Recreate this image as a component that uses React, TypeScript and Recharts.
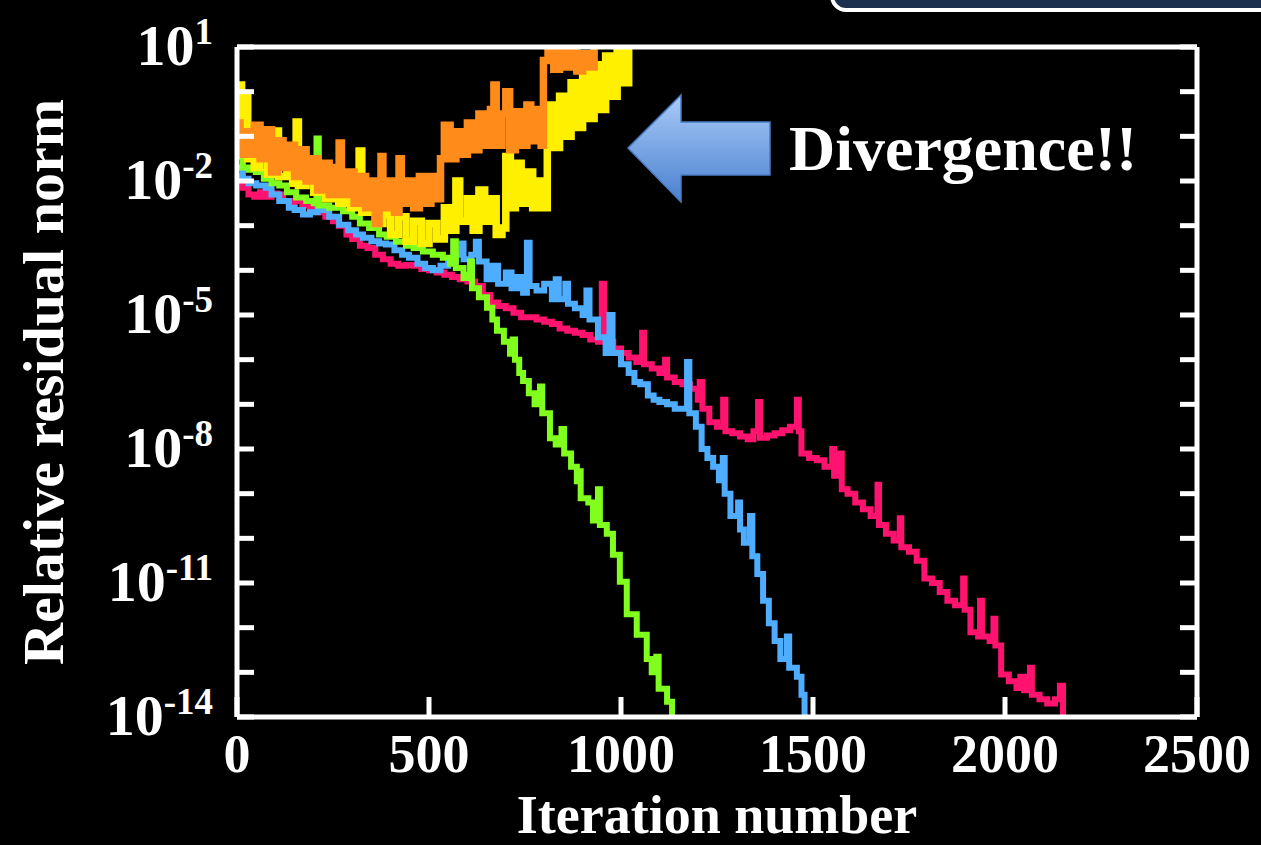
import React from 'react';
import { LineChart, Line, XAxis, YAxis } from 'recharts';

// [iteration, log10(relative residual norm)]
const pinkSeries: [number, number][] = [
  [0, -1.9], [15, -2.15], [30, -2.3], [45, -2.35], [60, -2.25], [75, -2.35], [90, -2.28], [105, -2.3],
  [120, -2.45], [135, -2.5], [150, -2.45], [170, -2.55], [190, -2.62], [210, -2.7], [230, -2.8], [250, -2.9],
  [265, -3.0], [285, -3.2], [300, -3.3], [320, -3.45], [340, -3.5], [360, -3.65], [380, -3.75], [400, -3.85],
  [420, -3.9], [440, -3.88], [460, -3.9], [480, -3.97], [500, -4.0], [520, -4.05], [540, -4.1], [560, -4.15],
  [580, -4.2], [600, -4.25], [620, -4.35], [640, -4.55], [660, -4.72], [680, -4.8], [700, -4.85], [720, -4.95],
  [740, -5.05], [760, -5.05], [780, -5.1], [800, -5.15], [820, -5.2], [840, -5.3], [860, -5.35], [880, -5.4],
  [900, -5.45], [920, -5.55], [940, -5.6], [950, -4.3], [956, -5.6], [980, -5.75], [1000, -5.85], [1020, -5.95],
  [1040, -6.05], [1055, -5.4], [1060, -6.1], [1080, -6.2], [1100, -6.3], [1115, -6.0], [1120, -6.4], [1140, -6.5],
  [1160, -6.55], [1180, -6.65], [1200, -6.9], [1205, -6.5], [1212, -7.1], [1230, -7.4], [1250, -7.5], [1266, -6.9],
  [1272, -7.6], [1290, -7.65], [1310, -7.72], [1330, -7.78], [1345, -7.6], [1357, -6.95], [1362, -7.75], [1380, -7.7],
  [1400, -7.65], [1420, -7.58], [1440, -7.5], [1458, -6.9], [1463, -7.6], [1470, -8.1], [1490, -8.2], [1510, -8.25],
  [1530, -8.4], [1550, -8.0], [1555, -8.6], [1570, -8.1], [1575, -8.9], [1590, -9.0], [1610, -9.2], [1630, -9.35],
  [1650, -9.5], [1668, -8.8], [1672, -9.7], [1690, -9.9], [1710, -10.05], [1726, -9.55], [1730, -10.2], [1750, -10.3],
  [1770, -10.5], [1790, -10.9], [1810, -11.0], [1830, -11.2], [1850, -11.4], [1870, -11.5], [1891, -10.9], [1895, -11.6],
  [1910, -12.1], [1930, -12.2], [1935, -11.4], [1940, -12.2], [1960, -12.3], [1970, -11.8], [1975, -12.4], [1990, -13.05],
  [2010, -13.2], [2030, -13.35], [2040, -13.1], [2050, -13.4], [2065, -12.9], [2070, -13.5], [2090, -13.6], [2110, -13.7],
  [2130, -13.6], [2143, -13.3], [2151, -14.1],
];

const blueSeries: [number, number][] = [
  [0, -1.7], [15, -1.95], [30, -2.05], [50, -2.1], [75, -2.15], [90, -2.3], [110, -2.45], [135, -2.6],
  [150, -2.65], [172, -2.75], [190, -2.7], [210, -2.6], [224, -2.65], [240, -2.8], [266, -2.98], [290, -3.1],
  [310, -3.2], [328, -3.27], [350, -3.35], [370, -3.4], [388, -3.42], [410, -3.55], [430, -3.65], [448, -3.72],
  [470, -3.85], [490, -3.95], [510, -4.0], [530, -3.9], [550, -3.75], [570, -3.65], [585, -3.4], [590, -3.75],
  [610, -3.65], [622, -3.36], [630, -3.8], [650, -4.2], [665, -3.9], [680, -4.3], [700, -4.05], [715, -4.4],
  [730, -4.15], [745, -4.5], [755, -3.38], [762, -4.35], [780, -4.45], [800, -4.3], [820, -4.65], [830, -4.2],
  [838, -4.65], [855, -4.3], [862, -4.75], [880, -4.85], [900, -5.0], [910, -4.45], [918, -5.1], [940, -5.5],
  [960, -5.85], [970, -5.0], [978, -5.85], [1000, -6.1], [1020, -6.3], [1035, -6.5], [1050, -6.55], [1070, -6.8],
  [1085, -6.9], [1100, -6.95], [1120, -7.0], [1140, -7.1], [1160, -7.1], [1172, -6.05], [1178, -7.2], [1195, -7.5],
  [1210, -8.0], [1225, -8.2], [1240, -8.4], [1255, -8.7], [1265, -8.2], [1270, -9.0], [1285, -9.5], [1305, -9.2],
  [1310, -9.8], [1320, -10.1], [1336, -9.5], [1342, -10.4], [1355, -10.8], [1370, -11.4], [1385, -11.9], [1400, -12.3],
  [1415, -12.7], [1432, -12.2], [1438, -12.9], [1458, -13.1], [1470, -13.5], [1478, -14.1],
];

const greenSeries: [number, number][] = [
  [0, -1.45], [15, -1.7], [30, -1.75], [49, -1.8], [70, -1.95], [90, -2.05], [110, -2.1], [130, -2.25],
  [154, -2.37], [180, -2.45], [200, -2.5], [207, -1.05], [213, -2.55], [240, -2.6], [276, -2.68], [300, -2.8],
  [320, -2.95], [344, -3.05], [370, -3.2], [390, -3.25], [414, -3.36], [440, -3.45], [460, -3.5], [484, -3.58],
  [510, -3.65], [536, -3.72], [555, -3.85], [563, -3.35], [570, -3.95], [590, -4.17], [600, -4.1], [607, -3.8],
  [612, -4.4], [630, -4.6], [651, -4.84], [665, -5.1], [677, -5.35], [695, -5.6], [711, -5.87], [718, -5.55],
  [724, -6.0], [735, -6.3], [745, -6.48], [760, -6.75], [775, -7.0], [789, -6.6], [795, -7.2], [815, -7.76],
  [830, -7.9], [845, -7.55], [852, -8.1], [870, -8.4], [885, -8.72], [890, -8.5], [895, -9.1], [915, -9.2],
  [927, -9.6], [940, -8.9], [945, -9.7], [963, -9.9], [979, -10.37], [997, -10.97], [1015, -11.7], [1041, -12.16],
  [1067, -12.7], [1080, -13.0], [1092, -12.65], [1098, -13.37], [1120, -13.66], [1133, -14.1],
];

const yellowSeries: [number, number][] = [
  [0, -1.0], [5, 0.15], [12, -1.3], [20, -0.05], [28, -1.5], [45, -1.7], [60, -1.5], [80, -1.85],
  [95, -1.6], [101, -0.88], [108, -1.9], [130, -1.7], [145, -2.05], [154, -0.68], [160, -2.1], [180, -1.9],
  [200, -2.25], [215, -1.95], [230, -2.4], [250, -2.1], [265, -2.5], [280, -2.2], [295, -2.6], [310, -2.3],
  [318, -1.33], [325, -2.7], [345, -2.5], [360, -2.95], [380, -2.75], [400, -3.2], [420, -2.8], [440, -3.35],
  [460, -2.9], [480, -3.4], [500, -2.95], [520, -3.3], [540, -2.6], [555, -3.1], [570, -2.0], [580, -2.9],
  [600, -2.4], [615, -3.1], [630, -2.2], [645, -2.9], [660, -2.4], [675, -3.2], [690, -3.05], [700, -1.45],
  [712, -2.6], [725, -1.6], [740, -2.5], [755, -1.8], [770, -2.6], [785, -2.0], [800, -2.6], [808, -1.2],
  [815, -0.3], [825, -1.25], [840, -0.1], [855, -1.0], [870, 0.2], [885, -0.8], [900, 0.45], [915, -0.6],
  [930, 0.6], [945, -0.4], [960, 0.8], [975, -0.1], [990, 0.95], [1005, 0.2], [1020, 1.1], [1035, 1.4],
];

const orangeSeries: [number, number][] = [
  [0, -0.7], [8, -1.4], [18, -0.9], [30, -1.4], [45, -0.75], [60, -1.5], [75, -0.85], [90, -1.8],
  [105, -1.1], [120, -1.7], [135, -1.2], [150, -1.9], [165, -1.3], [180, -2.0], [195, -1.5], [210, -2.2],
  [225, -1.6], [240, -2.3], [255, -1.7], [266, -1.15], [272, -2.3], [290, -1.8], [305, -2.5], [320, -1.9],
  [335, -2.6], [350, -2.0], [360, -2.95], [370, -2.2], [375, -1.45], [380, -2.6], [395, -2.0], [410, -2.7],
  [422, -1.5], [428, -2.5], [445, -2.0], [460, -2.6], [475, -1.9], [490, -2.5], [505, -1.9], [520, -2.4],
  [530, -1.5], [540, -0.75], [555, -1.5], [570, -0.9], [585, -1.4], [600, -0.7], [615, -1.3], [630, -0.5],
  [645, -1.2], [660, -0.4], [669, 0.15], [675, -1.2], [690, -0.5], [700, 0.0], [710, -1.3], [725, -0.45],
  [740, -1.2], [755, -0.3], [765, -1.1], [780, -0.4], [792, -1.2], [798, 0.7], [810, 0.95], [825, 0.5],
  [840, 1.0], [855, 0.55], [870, 0.9], [885, 0.46], [900, 0.85], [915, 0.55], [930, 1.3], [960, 1.6],
];

const xTicks = [0, 500, 1000, 1500, 2000, 2500];
const yTickExponents = [1, 0, -1, -2, -3, -4, -5, -6, -7, -8, -9, -10, -11, -12, -13, -14];
const yLabelExponents = [1, -2, -5, -8, -11, -14];

const series = [
  { name: 'pink', data: pinkSeries, color: '#FF136F', width: 6 },
  { name: 'blue', data: blueSeries, color: '#4FADFF', width: 6 },
  { name: 'green', data: greenSeries, color: '#80FF1E', width: 6 },
  { name: 'yellow', data: yellowSeries, color: '#FFF000', width: 7.5 },
  { name: 'orange', data: orangeSeries, color: '#FF8C1A', width: 7.5 },
];

const W = 1261;
const H = 845;
const PLOT = { left: 237, right: 1197, top: 47, bottom: 717 };
const FONT = "'Liberation Serif', 'Times New Roman', serif";
const TICK_LEN = 17;

const toRows = (pts: [number, number][]) => pts.map(([it, e]) => ({ it, v: Math.pow(10, e) }));

const LeftTick = (props: any) => {
  const { y, payload } = props;
  const exp = Math.round(Math.log10(payload.value));
  return (
    <g>
      <line x1={PLOT.left} x2={PLOT.left + TICK_LEN} y1={y} y2={y} stroke="#fff" strokeWidth={5} />
      {yLabelExponents.includes(exp) && (
        <text x={213} y={y + 18} textAnchor="end" fill="#fff" fontFamily={FONT} fontWeight="bold" fontSize={58}>
          10<tspan dy={-21} fontSize={37}>{String(exp)}</tspan>
        </text>
      )}
    </g>
  );
};

const RightTick = (props: any) => {
  const { y } = props;
  return <line x1={PLOT.right} x2={PLOT.right - TICK_LEN} y1={y} y2={y} stroke="#fff" strokeWidth={5} />;
};

const BottomTick = (props: any) => {
  const { x, payload } = props;
  return (
    <g>
      <line x1={x} x2={x} y1={PLOT.bottom} y2={PLOT.bottom - TICK_LEN - 3} stroke="#fff" strokeWidth={5} />
      <text x={x} y={PLOT.bottom + 55} textAnchor="middle" fill="#fff" fontFamily={FONT} fontWeight="bold" fontSize={54}>
        {payload.value}
      </text>
    </g>
  );
};

const TopTick = (props: any) => {
  const { x } = props;
  return <line x1={x} x2={x} y1={PLOT.top} y2={PLOT.top + TICK_LEN + 3} stroke="#fff" strokeWidth={5} />;
};

const XTitle = () => (
  <text x={(PLOT.left + PLOT.right) / 2} y={833} textAnchor="middle" fill="#fff" fontFamily={FONT} fontWeight="bold" fontSize={54}>
    Iteration number
  </text>
);

const YTitle = () => (
  <text
    transform={`translate(63, ${(PLOT.top + PLOT.bottom) / 2}) rotate(-90)`}
    textAnchor="middle"
    fill="#fff"
    fontFamily={FONT}
    fontWeight="bold"
    fontSize={58}
  >
    Relative residual norm
  </text>
);

const yDomain = [Math.pow(10, -14), Math.pow(10, 1)];
const yTicks = yTickExponents.map((e) => Math.pow(10, e));
const frame = { stroke: '#fff', strokeWidth: 5 };

export default function App() {
  return (
    <div style={{ position: 'absolute', left: 0, top: 0, width: W, height: H, background: '#000', overflow: 'hidden' }}>
      <LineChart width={W} height={H} margin={{ top: 0, right: 0, bottom: 0, left: 0 }}>
        <XAxis
          xAxisId="bottom"
          type="number"
          dataKey="it"
          domain={[0, 2500]}
          ticks={xTicks}
          height={H - PLOT.bottom}
          axisLine={frame}
          tickLine={false}
          tick={<BottomTick />}
          interval={0}
          label={<XTitle />}
          allowDataOverflow
        />
        <XAxis
          xAxisId="top"
          orientation="top"
          type="number"
          domain={[0, 2500]}
          ticks={xTicks}
          height={PLOT.top}
          axisLine={frame}
          tickLine={false}
          tick={<TopTick />}
          interval={0}
        />
        <YAxis
          yAxisId="left"
          type="number"
          scale="log"
          domain={yDomain}
          ticks={yTicks}
          width={PLOT.left}
          axisLine={frame}
          tickLine={false}
          tick={<LeftTick />}
          interval={0}
          allowDataOverflow
          label={<YTitle />}
        />
        <YAxis
          yAxisId="right"
          orientation="right"
          type="number"
          scale="log"
          domain={yDomain}
          ticks={yTicks}
          width={W - PLOT.right}
          axisLine={frame}
          tickLine={false}
          tick={<RightTick />}
          interval={0}
          allowDataOverflow
        />
        {series.map((s) => (
          <Line
            key={s.name}
            xAxisId="bottom"
            yAxisId="left"
            data={toRows(s.data)}
            dataKey="v"
            type="stepAfter"
            stroke={s.color}
            strokeWidth={s.width}
            dot={false}
            isAnimationActive={false}
          />
        ))}
      </LineChart>
      <svg width={W} height={H} style={{ position: 'absolute', left: 0, top: 0, pointerEvents: 'none' }}>
        <defs>
          <linearGradient id="arrowFill" x1="0" y1="0" x2="0" y2="1">
            <stop offset="0%" stopColor="#A9CBF8" />
            <stop offset="100%" stopColor="#4A80CF" />
          </linearGradient>
        </defs>
        <rect x={832} y={-40} width={460} height={50} rx={14} fill="#1B2F4E" stroke="#fff" strokeWidth={4} />
        <polygon
          points="628,148 681,95 681,122 770,122 770,175 681,175 681,202"
          fill="url(#arrowFill)"
          stroke="#4A7CC4"
          strokeWidth={1.5}
        />
        <text x={789} y={170} fill="#fff" fontFamily={FONT} fontWeight="bold" fontSize={64}>
          Divergence!!
        </text>
      </svg>
    </div>
  );
}
